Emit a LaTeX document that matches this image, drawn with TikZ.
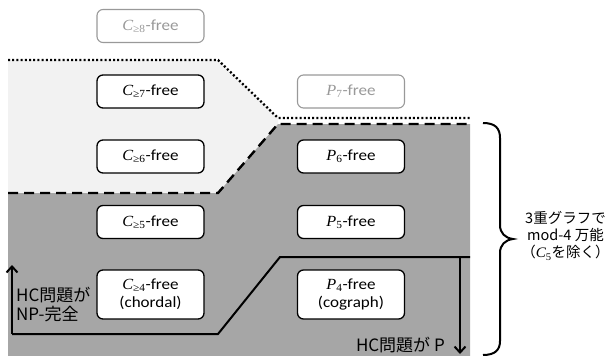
\documentclass[tikz,border=0pt]{standalone}
\usepackage{fontspec}
\setmainfont{Carlito}[FakeStretch=1.1]
\newfontfamily\jp{Noto Sans CJK JP}
\newfontfamily\mitf{Liberation Serif}[FakeStretch=1.05]
\newcommand\gv[2]{{\mitf\itshape #1}\textsubscript{\mitf #2}}
\usetikzlibrary{arrows.meta}
\definecolor{lightg}{HTML}{F2F2F2}
\definecolor{darkg}{HTML}{A6A6A6}
\definecolor{fadeg}{HTML}{999999}
\begin{document}
\begin{tikzpicture}[x=1pt,y=-1pt,
  cls/.style={draw=black, line width=1.3pt, rounded corners=6pt, fill=white,
    minimum width=107pt, minimum height=33pt, inner sep=0pt, align=center,
    font=\fontsize{15.5}{18}\selectfont},
  faded/.style={cls, draw=fadeg, text=fadeg, line width=1.1pt},
  dotline/.style={line width=2.3pt, dash pattern=on 2pt off 2.2pt},
  dashline/.style={line width=2.4pt, dash pattern=on 10pt off 6pt},
  bound/.style={line width=2pt},
  arr/.style={line width=2pt, -{Straight Barb[length=6pt,width=11pt,line width=2pt]}},
  jplab/.style={font=\jp\fontsize{17}{19}\selectfont, inner sep=0pt}
]
\useasboundingbox (0,0) rectangle (611,356);
% regions
\fill[lightg] (8,60) -- (218,60) -- (278,118) -- (278,124) -- (218,193) -- (8,193) -- cycle;
\fill[darkg] (8,193) -- (218,193) -- (278,124) -- (470,124) -- (470,356) -- (8,356) -- cycle;
\draw[dotline] (8,60) -- (218,60) -- (278,118) -- (470,118);
\draw[dashline] (8,193) -- (218,193) -- (278,124) -- (470,124);
\draw[bound] (12,334) -- (218,334) -- (280,257) -- (470,257);
% class boxes
\node[faded] (c8) at (150.5,26) {\gv{C}{≥8}-free};
\node[cls] (c7) at (150.5,91.5) {\gv{C}{≥7}-free};
\node[faded] (p7) at (351,91.5) {\gv{P}{7}-free};
\node[cls] (c6) at (150.5,156.5) {\gv{C}{≥6}-free};
\node[cls] (p6) at (351,156.5) {\gv{P}{6}-free};
\node[cls] (c5) at (150.5,222) {\gv{C}{≥5}-free};
\node[cls] (p5) at (351,222) {\gv{P}{5}-free};
\node[cls, minimum height=49pt] (c4) at (150.5,294.5) {\gv{C}{≥4}-free\\(chordal)};
\node[cls, minimum height=49pt] (p4) at (351,294.5) {\gv{P}{4}-free\\(cograph)};
% arrows
\coordinate (upS) at (12,334);
\coordinate (upE) at (12,265);
\draw[arr] (upS) -- (upE);
\coordinate (dnS) at (460,257);
\coordinate (dnE) at (460,354);
\draw[arr] (dnS) -- (dnE);
% labels
\node[jplab, anchor=west, align=left] (np) at (16,305) {HC問題が\\NP-完全};
\node[jplab, anchor=east] (pl) at (445,345) {HC問題が P};
% brace
\draw[line width=2pt] (483,123) .. controls (495,123) and (500,128) .. (500,138) -- (500,225)
  .. controls (500,233) and (505,238) .. (513,239)
  .. controls (505,240) and (500,245) .. (500,253) -- (500,341)
  .. controls (500,350) and (495,355) .. (483,355);
\node[font=\jp\fontsize{14.5}{17}\selectfont, align=center, inner sep=0pt] (univ) at (565.5,236)
  {3重グラフで\\mod-4 万能\\（\gv{C}{5}を除く）};
\end{tikzpicture}
\end{document}
